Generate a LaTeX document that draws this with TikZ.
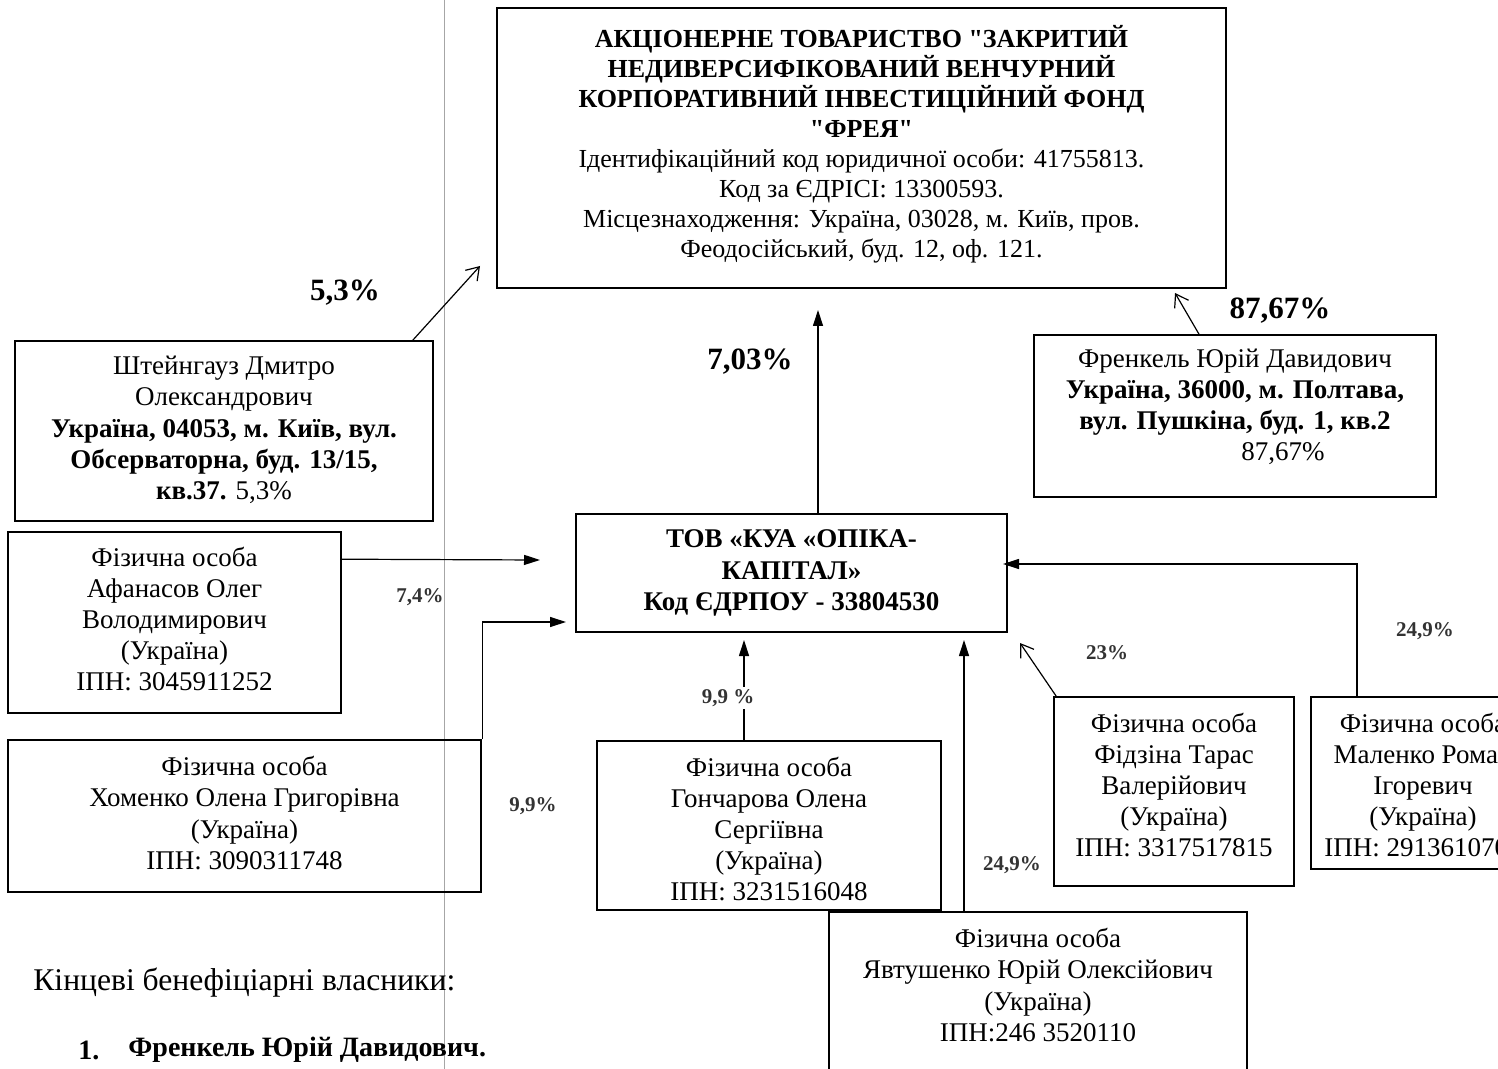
\documentclass[tikz,border=0pt]{standalone}
\usepackage{fontspec}
\setmainfont{Liberation Serif}
\usetikzlibrary{arrows.meta}
\tikzset{
  boxshape/.style={draw, line width=0.8pt, rectangle, inner sep=0pt},
  boxtext/.style={align=center, inner sep=0pt, font=\fontsize{13.5pt}{15.6pt}\selectfont},
  toptext/.style={align=center, inner sep=0pt, font=\fontsize{13pt}{15pt}\selectfont},
  biglabel/.style={inner sep=0pt, font=\fontsize{15.5pt}{17pt}\selectfont\bfseries},
  smalllabel/.style={inner sep=0pt, font=\fontsize{10.5pt}{12pt}\selectfont\bfseries, text=black!80},
  solidarrow/.style={line width=0.6pt, -{Triangle[length=8pt,width=5pt]}},
  openarrow/.style={line width=0.6pt, -{Straight Barb[length=6pt,width=8pt]}},
  plainline/.style={line width=0.6pt}
}
\begin{document}
\begin{tikzpicture}[x=0.5pt,y=-0.5pt]
\useasboundingbox (0,0) rectangle (1498,1069);
\clip (0,0) rectangle (1498,1069);
\fill[white] (0,0) rectangle (1498,1069);

% page fold line
\draw[gray!70, line width=0.5pt] (444,0) -- (444,1069);

% top fund box
\node[boxshape, minimum width=364.5pt, minimum height=140pt] (fund) at (861.5,148) {};
\node[toptext] (fundt) at (861.5,144) {\textbf{АКЦІОНЕРНЕ ТОВАРИСТВО \textquotedbl ЗАКРИТИЙ}\\
\textbf{НЕДИВЕРСИФІКОВАНИЙ ВЕНЧУРНИЙ}\\
\textbf{КОРПОРАТИВНИЙ ІНВЕСТИЦІЙНИЙ ФОНД}\\
\textbf{\textquotedbl ФРЕЯ\textquotedbl}\\
Ідентифікаційний код юридичної особи: 41755813.\\
Код за ЄДРІСІ: 13300593.\\
Місцезнаходження: Україна, 03028, м. Київ, пров.\\
Феодосійський, буд. 12, оф. 121.};

% Штейнгауз
\node[boxshape, minimum width=209pt, minimum height=90pt] (shtein) at (224,431) {};
\node[boxtext] (shteint) at (224,430) {Штейнгауз Дмитро\\ Олександрович\\
\textbf{Україна, 04053, м. Київ, вул.}\\
\textbf{Обсерваторна, буд. 13/15,}\\
\textbf{кв.37.} 5,3\%};

% Афанасов
\node[boxshape, minimum width=166.5pt, minimum height=90.5pt] (afan) at (174.5,622.5) {};
\node[boxtext] (afant) at (174.5,619) {Фізична особа\\ Афанасов Олег\\ Володимирович\\ (Україна)\\ ІПН: 3045911252};

% Хоменко
\node[boxshape, minimum width=236.5pt, minimum height=76pt] (khom) at (244.5,816) {};
\node[boxtext] (khomt) at (244.5,813) {Фізична особа\\ Хоменко Олена Григорівна\\ (Україна)\\ ІПН: 3090311748};

% ТОВ КУА
\node[boxshape, minimum width=215.5pt, minimum height=59pt] (tob) at (791.5,573) {};
\node[boxtext] (tobt) at (791.5,573) {\textbf{ТОВ «КУА «ОПІКА-}\\ \textbf{КАПІТАЛ»}\\ \textbf{Код ЄДРПОУ - 33804530}};

% Френкель
\node[boxshape, minimum width=201pt, minimum height=81pt] (frenk) at (1235,416) {};
\node[boxtext] (frenkt) at (1235,407) {Френкель Юрій Давидович\\
\textbf{Україна, 36000, м. Полтава,}\\
\textbf{вул. Пушкіна, буд. 1, кв.2}\\
\hspace*{48pt}87,67\%};

% Гончарова
\node[boxshape, minimum width=172pt, minimum height=84.5pt] (gonch) at (769,825.5) {};
\node[boxtext] (goncht) at (769,829) {Фізична особа\\ Гончарова Олена\\ Сергіївна\\ (Україна)\\ ІПН: 3231516048};

% Явтушенко
\node[boxshape, minimum width=209pt, minimum height=90pt] (yavt) at (1038,1002) {};
\node[boxtext] (yavtt) at (1038,985) {Фізична особа\\ Явтушенко Юрій Олексійович\\ (Україна)\\ ІПН:246 3520110};

% Фідзіна
\node[boxshape, minimum width=120pt, minimum height=94.5pt] (fidz) at (1174,791.5) {};
\node[boxtext] (fidzt) at (1174,785) {Фізична особа\\ Фідзіна Тарас\\ Валерійович\\ (Україна)\\ ІПН: 3317517815};

% Маленко (cut by the right edge, as in the original)
\node[boxshape, minimum width=112pt, minimum height=86pt] (malen) at (1423,783) {};
\node[boxtext] (malent) at (1423,785) {Фізична особа\\ Маленко Роман\\ Ігоревич\\ (Україна)\\ ІПН: 2913610700};

% free ends
\coordinate (e53) at (480,266);
\coordinate (e8767) at (1175,293);
\coordinate (e703) at (818,310);
\coordinate (eafan) at (540,560);
\coordinate (ekhom) at (566,622);
\coordinate (egonch) at (744,640);
\coordinate (eyavt) at (964,640);
\coordinate (efidz) at (1020,643);
\coordinate (emalen) at (1003,564);

% connectors
\draw[openarrow] ([xshift=-10.5pt]shtein.north east) -- (e53);
\draw[openarrow] ([xshift=-18pt]frenk.north) -- (e8767);
\draw[solidarrow] ([xshift=13.25pt]tob.north) -- (e703);
\draw[solidarrow] ([yshift=-14pt]afan.north east) -- (eafan);
\draw[solidarrow] ([xshift=0.5pt]khom.north east) |- (ekhom);
\draw[solidarrow] ([xshift=-12.5pt]gonch.north) -- (egonch);
\draw[solidarrow] ([xshift=-37pt]yavt.north) -- (eyavt);
\draw[openarrow] ([xshift=1.5pt]fidz.north west) -- (efidz);
\draw[solidarrow] ([xshift=-33pt]malen.north) |- (emalen);

% labels
\node[biglabel] (l53) at (345,293) {5,3\%};
\node[biglabel] (l703) at (750,362) {7,03\%};
\node[biglabel] (l8767) at (1280,311) {87,67\%};
\node[smalllabel] (l74) at (420,597) {7,4\%};
\node[smalllabel] (l99a) at (533,806) {9,9\%};
\node[smalllabel, fill=white, inner sep=1pt] (l99b) at (728,698) {9,9 \%};
\node[smalllabel] (l249a) at (1012,865) {24,9\%};
\node[smalllabel] (l23) at (1107,653) {23\%};
\node[smalllabel] (l249b) at (1425,631) {24,9\%};

% beneficiaries text
\node[anchor=west, inner sep=0pt, font=\fontsize{15.8pt}{19pt}\selectfont] (benef) at (33,983) {Кінцеві бенефіціарні власники:};
\node[anchor=west, inner sep=0pt, font=\fontsize{14pt}{17pt}\selectfont\bfseries] (num1) at (78,1050) {1.};
\node[anchor=west, inner sep=0pt, font=\fontsize{14pt}{17pt}\selectfont\bfseries] (ben1) at (128,1050) {Френкель Юрій Давидович.};
\end{tikzpicture}
\end{document}
